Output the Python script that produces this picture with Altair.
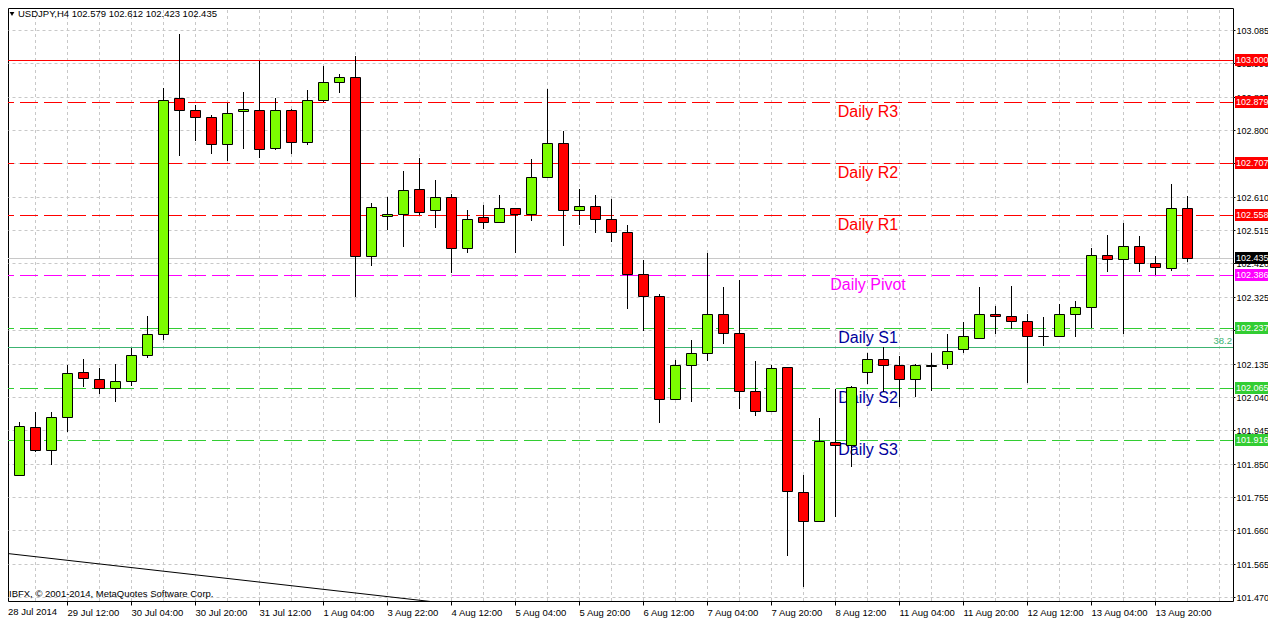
import altair as alt
import pandas as pd

OPEN = [101.856,101.818,101.953,101.890,101.984,102.110,102.090,102.064,102.084,102.158,
        102.218,102.890,102.856,102.836,102.759,102.853,102.856,102.748,102.856,102.765,
        102.887,102.938,102.950,102.440,102.554,102.560,102.631,102.571,102.608,102.463,
        102.551,102.537,102.577,102.560,102.665,102.762,102.571,102.585,102.548,102.511,
        102.389,102.326,102.033,102.132,102.164,102.275,102.221,102.056,102.001,102.124,
        101.768,101.685,101.910,101.902,102.110,102.147,102.132,102.090,102.127,102.135,
        102.175,102.209,102.275,102.269,102.255,102.214,102.212,102.275,102.295,102.443,
        102.432,102.471,102.420,102.406,102.579]
HIGH = [101.866,101.967,101.996,101.996,102.130,102.147,102.121,102.133,102.178,102.270,
        102.919,103.073,102.870,102.844,102.878,102.908,102.996,102.891,102.859,102.914,
        102.982,102.961,103.011,102.591,102.610,102.683,102.719,102.657,102.617,102.571,
        102.586,102.615,102.577,102.717,102.917,102.797,102.632,102.615,102.603,102.529,
        102.430,102.332,102.144,102.202,102.449,102.353,102.373,102.142,102.132,102.124,
        101.816,101.979,102.062,102.071,102.165,102.182,102.155,102.135,102.164,102.219,
        102.253,102.352,102.299,102.355,102.275,102.267,102.304,102.312,102.464,102.501,
        102.535,102.498,102.441,102.646,102.612]
LOW = [101.812,101.815,101.884,101.847,101.941,102.069,102.049,102.026,102.072,102.151,
       102.202,102.727,102.768,102.732,102.712,102.747,102.721,102.744,102.732,102.758,
       102.880,102.906,102.325,102.413,102.515,102.467,102.557,102.522,102.393,102.450,
       102.518,102.537,102.450,102.541,102.665,102.470,102.529,102.507,102.482,102.289,
       102.229,101.966,102.033,102.026,102.143,102.191,102.006,101.986,102.001,101.587,
       101.499,101.685,101.698,101.841,102.076,102.054,102.012,102.040,102.057,102.119,
       102.166,102.209,102.219,102.232,102.080,102.185,102.212,102.211,102.235,102.396,
       102.219,102.396,102.386,102.399,102.423]
CLOSE = [101.819,101.956,101.890,101.984,102.107,102.095,102.064,102.084,102.158,102.218,
         102.887,102.856,102.836,102.759,102.850,102.859,102.745,102.856,102.765,102.887,
         102.938,102.950,102.440,102.580,102.560,102.628,102.568,102.608,102.463,102.548,
         102.537,102.577,102.560,102.665,102.762,102.571,102.585,102.548,102.511,102.389,
         102.326,102.033,102.132,102.164,102.275,102.221,102.058,102.001,102.121,101.771,
         101.685,101.913,101.902,102.067,102.147,102.132,102.090,102.130,102.132,102.172,
         102.212,102.275,102.269,102.255,102.212,102.214,102.275,102.295,102.443,102.432,
         102.471,102.420,102.409,102.577,102.435]

TIME_LABELS = ["28 Jul 2014","29 Jul 12:00","30 Jul 04:00","30 Jul 20:00","31 Jul 12:00",
               "1 Aug 04:00","3 Aug 22:00","4 Aug 12:00","5 Aug 04:00","5 Aug 20:00",
               "6 Aug 12:00","7 Aug 04:00","7 Aug 20:00","8 Aug 12:00","11 Aug 04:00",
               "11 Aug 20:00","12 Aug 12:00","13 Aug 04:00","13 Aug 20:00"]
Y_TICKS = [103.085,102.990,102.895,102.800,102.705,102.610,102.515,102.420,102.325,
           102.230,102.135,102.040,101.945,101.850,101.755,101.660,101.565,101.470]
LEVELS = [103.000,102.879,102.707,102.558,102.386,102.237,102.065,101.916]
LEVEL_COLORS = ["#ff0000","#ff0000","#ff0000","#ff0000","#ff00ff","#32cd32","#32cd32","#32cd32"]
NOTE_TEXT = ["Daily R3","Daily R2","Daily R1","Daily Pivot","Daily S1","Daily S2","Daily S3"]
NOTE_PRICE = [102.851,102.677,102.529,102.358,102.207,102.036,101.888]
NOTE_COLOR = ["#ff0000","#ff0000","#ff0000","#ff00ff","#00009c","#00009c","#00009c"]
NOTE_BAR = 54.07
BID = 102.435
FIB = 102.183
TREND_X = [0, 27]
TREND_Y = [101.596, 101.457]

FONT = "Liberation Sans"
x_scale = alt.Scale(domain=[0.3125, 76.875], nice=False, zero=False, round=True, padding=0)
y_scale = alt.Scale(domain=[101.4585, 103.1477], nice=False, zero=False, round=True, padding=0)

candles = pd.DataFrame({"i": range(len(OPEN)), "o": OPEN, "h": HIGH, "l": LOW, "c": CLOSE})
candles["top"] = candles[["o", "c"]].max(axis=1)
candles["bot"] = candles[["o", "c"]].min(axis=1)
candles["col"] = ["#7cfc00" if c >= o else "#ff0000" for o, c in zip(OPEN, CLOSE)]

grid_x = pd.DataFrame({"i": list(range(2, 77, 2))})
tick_vals = [4 * k for k in range(1, len(TIME_LABELS))]
label_expr = "[" + ",".join(f"'{t}'" for t in TIME_LABELS) + "][datum.value / 4]"

x_axis = alt.Axis(
    values=tick_vals, labelExpr=label_expr, grid=False, domain=False,
    tickColor="black", tickSize=4, labelColor="black", labelFont=FONT,
    labelFontSize=9.5, labelAlign="left", labelPadding=2, labelFlush=False,
    labelOverlap=False)
y_axis = alt.Axis(
    orient="right", values=Y_TICKS, format=".3f", grid=True, gridColor="#c8c8c8",
    gridDash=[3, 3], domain=False, tickColor="black", tickSize=2,
    labelColor="black", labelFont=FONT, labelFontSize=9, labelPadding=1,
    labelAlign="left", labelOverlap=False, labelFlush=False)
X = lambda f="i": alt.X(f, type="quantitative", scale=x_scale, title=None, axis=x_axis)
Y = lambda f: alt.Y(f, type="quantitative", scale=y_scale, title=None, axis=y_axis)

base = (
    alt.Chart(grid_x)
    .transform_calculate(y0="101.4585", y1="103.1477")
    .mark_rule(color="#c8c8c8", strokeDash=[3, 3], strokeWidth=1, xOffset=0.5)
    .encode(x=X(), y=Y("y0"), y2=alt.Y2("y1:Q"))
)

first_label = alt.Chart(pd.DataFrame({"t": TIME_LABELS[:1]})).mark_text(
    align="left", baseline="top", font=FONT, fontSize=9.5, color="black"
).encode(text="t:N", x=alt.value(0), y=alt.value(599))

notes = alt.Chart(pd.DataFrame({"t": NOTE_TEXT, "p": NOTE_PRICE, "c": NOTE_COLOR, "i": [NOTE_BAR] * 7})).mark_text(
    align="center", baseline="middle", font=FONT, fontSize=16
).encode(x=X(), y=Y("p"), text="t:N", color=alt.Color("c:N", scale=None))

lev_df = pd.DataFrame({"p": LEVELS, "c": LEVEL_COLORS, "lab": [f"{v:.3f}" for v in LEVELS]})
solid = alt.Chart(lev_df.iloc[:1]).mark_rule(strokeWidth=1, yOffset=0.5).encode(
    y=Y("p"), color=alt.Color("c:N", scale=None))
dashed = alt.Chart(lev_df.iloc[1:]).mark_rule(
    strokeWidth=1, yOffset=0.5, strokeDash=[18, 6], strokeDashOffset=5
).encode(y=Y("p"), color=alt.Color("c:N", scale=None))

bid = alt.Chart(pd.DataFrame({"p": [BID]})).mark_rule(color="#c8c8c8", strokeWidth=1, yOffset=0.5).encode(y=Y("p"))
fib = alt.Chart(pd.DataFrame({"p": [FIB]})).mark_rule(color="#3cb371", strokeWidth=1, yOffset=0.5).encode(y=Y("p"))
fib_text = alt.Chart(pd.DataFrame({"t": ["38.2"], "p": [102.199]})).mark_text(
    align="right", baseline="middle", font=FONT, fontSize=9.5, color="#3cb371"
).encode(x=alt.value(1224), y=Y("p"), text="t:N")

trend = alt.Chart(pd.DataFrame({"i": TREND_X, "p": TREND_Y})).mark_line(
    color="black", strokeWidth=1, clip=True
).encode(x=X(), y=Y("p"))

wicks = alt.Chart(candles).mark_rule(color="black", strokeWidth=1, xOffset=0.5, clip=True).encode(
    x=X(), y=Y("l"), y2="h:Q")
bodies = alt.Chart(candles).mark_bar(
    size=10, stroke="black", strokeWidth=1, xOffset=0.5, x2Offset=0.5, yOffset=0.5, y2Offset=0.5, clip=True
).encode(x=X(), y=Y("bot"), y2="top:Q", color=alt.Color("col:N", scale=None))

lab_df = pd.concat([lev_df, pd.DataFrame({"p": [BID], "c": ["#000000"], "lab": [f"{BID:.3f}"]})])
lab_rect = alt.Chart(lab_df).mark_rect(height=12).encode(
    x=alt.value(1227), x2=alt.value(1260), y=Y("p"), color=alt.Color("c:N", scale=None))
lab_text = alt.Chart(lab_df).mark_text(
    align="left", baseline="middle", font=FONT, fontSize=9, color="white"
).encode(x=alt.value(1228), y=Y("p"), text="lab:N")

header = alt.Chart(pd.DataFrame({"t": ["USDJPY,H4  102.579 102.612 102.423 102.435"]})).mark_text(
    align="left", baseline="middle", font=FONT, fontSize=9.5, color="black"
).encode(x=alt.value(10), y=alt.value(6), text="t:N")
arrow = alt.Chart(pd.DataFrame({"t": ["m"]})).mark_point(
    shape="triangle-down", filled=True, color="black", size=22, opacity=1
).encode(x=alt.value(4), y=alt.value(6))
copy = alt.Chart(pd.DataFrame({"t": ["IBFX, \u00a9 2001-2014, MetaQuotes Software Corp."]})).mark_text(
    align="left", baseline="middle", font=FONT, fontSize=9.5, color="black"
).encode(x=alt.value(1), y=alt.value(586), text="t:N")

chart = alt.layer(
    base, first_label, notes, bid, fib, fib_text, solid, dashed, trend, wicks, bodies,
    lab_rect, lab_text, header, arrow, copy
).resolve_scale(color="independent").properties(
    width=1225, height=593,
    autosize=alt.AutoSizeParams(type="none"),
    padding={"left": 0, "top": 0, "right": 35, "bottom": 17},
    background="white",
).configure_view(stroke="black", strokeWidth=1)

chart.save("out.html", embed_options={"renderer": "svg", "actions": False})
